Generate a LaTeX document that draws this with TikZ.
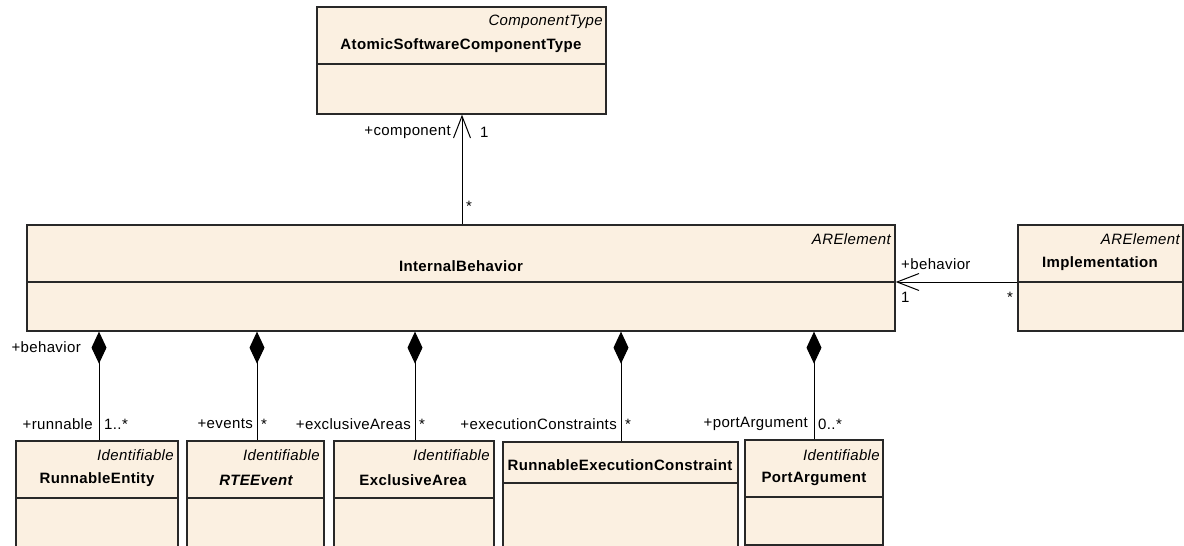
\documentclass[tikz,border=0pt]{standalone}
\usepackage{fontspec}
\setmainfont{Liberation Sans}[LetterSpace=2.5]
\usetikzlibrary{arrows.meta,fit}
\definecolor{classfill}{RGB}{251,240,225}
\definecolor{classline}{RGB}{40,40,40}
\newcommand\umlsize{\fontsize{15}{17}\selectfont}
\tikzset{
  classbox/.style={draw=classline, fill=classfill, line width=1.3pt, inner sep=0pt},
  divider/.style={draw=classline, line width=1.1pt},
  stereo/.style={font=\umlsize\itshape, inner sep=0pt, anchor=east},
  cname/.style={font=\umlsize\bfseries, inner sep=0pt},
  lbl/.style={font=\umlsize, inner sep=0pt},
  navarrow/.style={draw, line width=1pt, -{Straight Barb[length=22pt,width=17pt,line width=1pt]}},
  compo/.style={draw, line width=1pt, {Diamond[length=32pt,width=15pt]}-},
}
\begin{document}
\begin{tikzpicture}[x=1pt,y=-1pt]
\useasboundingbox (0,0) rectangle (1184,546);
\clip (0,0) rectangle (1184,546);

% ---- classes ----
\node[classbox, fit={(317,7)(606,114)}] (asw) {};
\draw[divider] (asw.west |- 0,64) -- (asw.east |- 0,64);
\node[stereo] at (603,22) {ComponentType};
\node[cname] at (461,46) {AtomicSoftwareComponentType};

\node[classbox, fit={(27,225)(895,331)}] (ib) {};
\draw[divider] (ib.west |- 0,282) -- (ib.east |- 0,282);
\node[stereo] at (891,239) {ARElement};
\node[cname] at (461,266) {InternalBehavior};

\node[classbox, fit={(1018,225)(1183,331)}] (impl) {};
\draw[divider] (impl.west |- 0,282) -- (impl.east |- 0,282);
\node[stereo] at (1180,239) {ARElement};
\node[cname] at (1100,264) {Implementation};

\node[classbox, fit={(16,441)(178,560)}] (re) {};
\draw[divider] (re.west |- 0,498) -- (re.east |- 0,498);
\node[stereo] at (174,455) {Identifiable};
\node[cname] at (97,480) {RunnableEntity};

\node[classbox, fit={(187,441)(324,560)}] (ev) {};
\draw[divider] (ev.west |- 0,498) -- (ev.east |- 0,498);
\node[stereo] at (320,455) {Identifiable};
\node[cname, font=\umlsize\bfseries\itshape] at (256,480) {RTEEvent};

\node[classbox, fit={(334,441)(494,560)}] (ea) {};
\draw[divider] (ea.west |- 0,498) -- (ea.east |- 0,498);
\node[stereo] at (490,455) {Identifiable};
\node[cname] at (413,480) {ExclusiveArea};

\node[classbox, fit={(503,442)(738,560)}] (rec) {};
\draw[divider] (rec.west |- 0,483) -- (rec.east |- 0,483);
\node[cname] at (620,465) {RunnableExecutionConstraint};

\node[classbox, fit={(745,440)(883,545)}] (pa) {};
\draw[divider] (pa.west |- 0,497) -- (pa.east |- 0,497);
\node[stereo] at (880,455) {Identifiable};
\node[cname] at (814,479) {PortArgument};

% ---- associations ----
\draw[navarrow] (ib.north -| 462,0) -- (asw.south -| 462,0);
\node[lbl, anchor=east] at (451,132) {+component};
\node[lbl, anchor=west] at (480,132) {1};
\node[lbl] at (469,206) {*};

\draw[navarrow] (impl.west |- 0,282) -- (ib.east |- 0,282);
\node[lbl, anchor=west] at (901,264) {+behavior};
\node[lbl, anchor=west] at (901,297) {1};
\node[lbl] at (1010,297) {*};

% ---- compositions ----
\node[lbl, anchor=east] at (81,347) {+behavior};

\draw[compo] (ib.south -| 99,0) -- (re.north -| 99,0);
\node[lbl, anchor=east] at (93,424) {+runnable};
\node[lbl, anchor=west] at (104,424) {1..*};

\draw[compo] (ib.south -| 257,0) -- (ev.north -| 257,0);
\node[lbl, anchor=east] at (253,424) {+events};
\node[lbl, anchor=west] at (261,424) {*};

\draw[compo] (ib.south -| 415,0) -- (ea.north -| 415,0);
\node[lbl, anchor=east] at (411,424) {+exclusiveAreas};
\node[lbl, anchor=west] at (419,424) {*};

\draw[compo] (ib.south -| 621,0) -- (rec.north -| 621,0);
\node[lbl, anchor=east] at (617,424) {+executionConstraints};
\node[lbl, anchor=west] at (625,424) {*};

\draw[compo] (ib.south -| 814,0) -- (pa.north -| 814,0);
\node[lbl, anchor=east] at (808,424) {+portArgument};
\node[lbl, anchor=west] at (818,424) {0..*};
\end{tikzpicture}
\end{document}
